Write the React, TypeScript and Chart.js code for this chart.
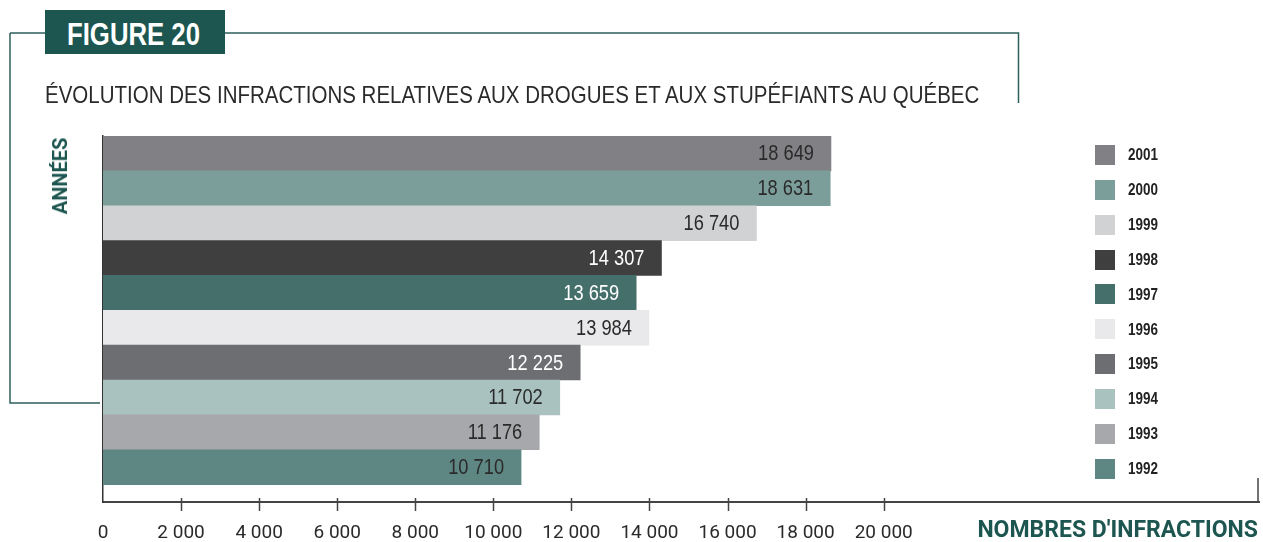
import React, { useEffect, useRef } from "react";
import { Chart, registerables } from "chart.js";

Chart.register(...registerables);

const years = ["2001", "2000", "1999", "1998", "1997", "1996", "1995", "1994", "1993", "1992"];
const infractions = [18649, 18631, 16740, 14307, 13659, 13984, 12225, 11702, 11176, 10710];
const barColors = ["#818085", "#7c9e9b", "#d1d2d4", "#3f3f40", "#456f6b", "#e9e9eb", "#6d6e72", "#a9c2bf", "#a7a8ab", "#5e8683"];
const valueLabelColors = ["#2a2a2a", "#2a2a2a", "#2a2a2a", "#ffffff", "#ffffff", "#2a2a2a", "#ffffff", "#2a2a2a", "#2a2a2a", "#2a2a2a"];
const xTickValues = [0, 2000, 4000, 6000, 8000, 10000, 12000, 14000, 16000, 18000, 20000];
const xAxisMax = 29615;

const TEAL = "#1d5650";
const FRAME = "#2f5f5b";
const SANS = '"Liberation Sans", Arial, sans-serif';
const ROBOTO = 'Roboto, "Liberation Sans", Arial, sans-serif';
const CONDENSE = 0.83;

const fmt = (v: number) => String(v).replace(/\B(?=(\d{3})+(?!\d))/g, " ");

function condensedText(ctx: CanvasRenderingContext2D, text: string, x: number, y: number, k: number) {
  ctx.save();
  ctx.translate(x, y);
  ctx.scale(k, 1);
  ctx.fillText(text, 0, 0);
  ctx.restore();
}

const overlayPlugin = {
  id: "overlay",
  afterDraw(chart: any) {
    const ctx = chart.ctx as CanvasRenderingContext2D;
    const area = chart.chartArea;
    const xs = chart.scales.x;
    const ys = chart.scales.y;
    ctx.save();

    // frame lines
    ctx.strokeStyle = FRAME;
    ctx.lineWidth = 1.5;
    ctx.beginPath();
    ctx.moveTo(10, 33);
    ctx.lineTo(1018.5, 33);
    ctx.lineTo(1018.5, 103);
    ctx.moveTo(10, 33);
    ctx.lineTo(10, 403);
    ctx.lineTo(100, 403);
    ctx.stroke();

    // x tick marks
    ctx.strokeStyle = "#444444";
    ctx.lineWidth = 1.5;
    ctx.beginPath();
    xs.ticks.forEach((t: any) => {
      if (t.value === 0) return;
      const px = Math.round(xs.getPixelForValue(t.value)) + 0.5;
      ctx.moveTo(px, area.bottom - 4);
      ctx.lineTo(px, area.bottom + 9);
    });
    ctx.moveTo(area.right - 1, area.bottom);
    ctx.lineTo(area.right - 1, area.bottom - 24);
    ctx.stroke();

    // value labels
    const meta = chart.getDatasetMeta(0);
    ctx.font = `22px ${SANS}`;
    ctx.textAlign = "right";
    ctx.textBaseline = "middle";
    meta.data.forEach((el: any, i: number) => {
      ctx.fillStyle = valueLabelColors[i];
      condensedText(ctx, fmt(infractions[i]), el.x - 17, el.y + 1, CONDENSE);
    });

    // legend
    ctx.textAlign = "left";
    ctx.font = `bold 16px ${SANS}`;
    years.forEach((yr, i) => {
      const cy = ys.getPixelForValue(i) + 1.5;
      ctx.fillStyle = barColors[i];
      ctx.fillRect(1095, Math.round(cy - 10), 20, 20);
      ctx.fillStyle = "#222222";
      condensedText(ctx, yr, 1128, cy + 1, 0.84);
    });

    ctx.restore();
  },
};

export default function App() {
  const ref = useRef<HTMLCanvasElement | null>(null);

  useEffect(() => {
    document.body.style.margin = "0";
    const canvas = ref.current;
    if (!canvas) return;
    const chart = new Chart(canvas, {
      type: "bar",
      data: {
        datasets: [
          {
            label: "Infractions",
            data: infractions.map((v, i) => ({ x: v, y: i })),
            backgroundColor: barColors,
            borderColor: barColors,
            borderWidth: 0,
            barPercentage: 1,
            categoryPercentage: 1,
          },
        ],
      },
      options: {
        indexAxis: "y",
        animation: false,
        responsive: false,
        maintainAspectRatio: false,
        layout: { padding: { left: 103, top: 136, right: 4, bottom: 0 } },
        plugins: { legend: { display: false }, tooltip: { enabled: false } },
        scales: {
          x: {
            type: "linear",
            min: 0,
            max: xAxisMax,
            offset: false,
            afterBuildTicks: (scale: any) => {
              scale.ticks = xTickValues.map((v) => ({ value: v }));
            },
            afterFit: (scale: any) => {
              scale.height = 40;
            },
            grid: { display: false, drawTicks: false },
            border: { display: true, color: "#444444", width: 2 },
            ticks: {
              autoSkip: false,
              maxRotation: 0,
              padding: 20,
              color: "#2a2a2a",
              font: { family: ROBOTO, size: 19 },
              callback: (v: any) => fmt(Number(v)),
            },
          },
          y: {
            type: "linear",
            reverse: true,
            offset: false,
            min: -0.5,
            max: 10,
            afterBuildTicks: (scale: any) => {
              scale.ticks = years.map((_, i) => ({ value: i }));
            },
            afterFit: (scale: any) => {
              scale.width = 0;
            },
            grid: { display: false, drawTicks: false, offset: false },
            border: { display: true, color: "#333333", width: 1.5 },
            ticks: { display: false },
          },
        },
      },
      plugins: [overlayPlugin],
    } as any);
    return () => chart.destroy();
  }, []);

  return (
    <div style={{ position: "relative", width: 1263, height: 542, background: "#ffffff", overflow: "hidden" }}>
      <canvas ref={ref} width={1263} height={542} style={{ position: "absolute", left: 0, top: 0 }} />
      <div style={{ position: "absolute", left: 45, top: 10, width: 180, height: 44, background: TEAL }}>
        <div
          style={{
            position: "absolute",
            left: 22,
            top: 9,
            fontFamily: SANS,
            fontWeight: "bold",
            fontSize: 31,
            lineHeight: 1,
            color: "#ffffff",
            whiteSpace: "nowrap",
            transform: "scaleX(0.83)",
            transformOrigin: "0 0",
          }}
        >
          FIGURE 20
        </div>
      </div>
      <div
        style={{
          position: "absolute",
          left: 45,
          top: 83,
          fontFamily: SANS,
          fontSize: 24,
          lineHeight: 1,
          color: "#2a2a2a",
          whiteSpace: "nowrap",
          transform: "scaleX(0.854)",
          transformOrigin: "0 0",
        }}
      >
        ÉVOLUTION DES INFRACTIONS RELATIVES AUX DROGUES ET AUX STUPÉFIANTS AU QUÉBEC
      </div>
      <div
        style={{
          position: "absolute",
          left: 60,
          top: 176,
          transform: "translate(-50%, -50%) rotate(-90deg)",
          fontFamily: ROBOTO,
          fontWeight: "bold",
          fontSize: 20,
          lineHeight: 1,
          color: TEAL,
          whiteSpace: "nowrap",
        }}
      >
        ANNÉES
      </div>
      <div
        style={{
          position: "absolute",
          right: 5,
          top: 518,
          fontFamily: ROBOTO,
          fontWeight: "bold",
          fontSize: 23,
          lineHeight: 1,
          color: TEAL,
          whiteSpace: "nowrap",
        }}
      >
        NOMBRES D'INFRACTIONS
      </div>
    </div>
  );
}
